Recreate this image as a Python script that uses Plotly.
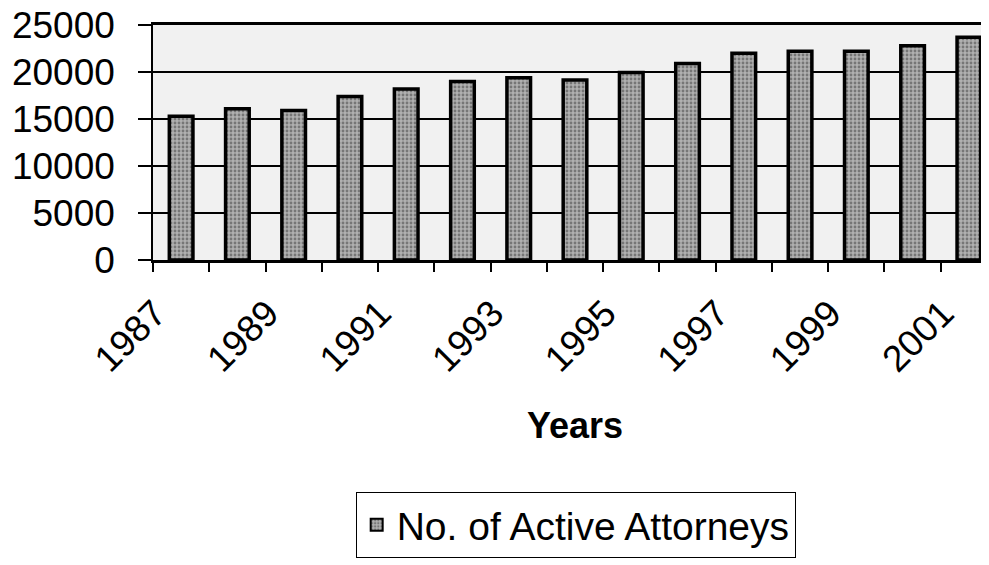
import plotly.graph_objects as go

years = list(range(1987, 2002))
attorneys = [15300, 16100, 15900, 17400, 18200, 19000, 19400, 19150,
             19950, 20900, 22000, 22200, 22200, 22800, 23700]
label_years = [1987, 1989, 1991, 1993, 1995, 1997, 1999, 2001]
y_ticks = [0, 5000, 10000, 15000, 20000, 25000]
series_name = "No. of Active Attorneys"
x_title = "Years"

FONT = "Liberation Sans, Arial, sans-serif"

fig = go.Figure()
fig.add_trace(go.Bar(
    x=years, y=attorneys, name=series_name, width=0.42,
    marker=dict(
        color="#a0a0a0",
        line=dict(color="black", width=3.5),
        pattern=dict(shape=".", fgcolor="#3c3c3c", bgcolor="#b0b0b0",
                     size=4, solidity=0.4),
    ),
    showlegend=True,
))

fig.update_layout(
    width=989, height=565,
    margin=dict(l=145, r=0, t=25, b=305, autoexpand=False),
    paper_bgcolor="white",
    plot_bgcolor="#f1f1f1",
    font=dict(family=FONT, color="black"),
    showlegend=True,
    legend=dict(
        orientation="h", x=0.574, xanchor="center", xref="container",
        y=0.1292, yanchor="top", yref="container",
        bordercolor="black", borderwidth=1, bgcolor="white",
        font=dict(size=39, family=FONT),
        itemsizing="constant",
    ),
)

fig.update_xaxes(
    range=[1986.5, 2001.5], automargin=False,
    tickmode="array", tickvals=label_years, ticktext=[str(y) for y in label_years],
    tickangle=-45, ticks="", showgrid=False,
    tickfont=dict(size=37, family=FONT),
    ticklabelstandoff=14, ticklabelshift=-26, ticklabeloverflow="allow",
    showline=True, linecolor="black", linewidth=2.5, mirror=True,
    minor=dict(tickmode="linear", tick0=1986.5, dtick=1, ticks="outside",
               ticklen=9, tickwidth=1.5, tickcolor="black", showgrid=False),
    title=dict(text="<b>" + x_title + "</b>", font=dict(size=36, family=FONT), standoff=35),
    zeroline=False,
)

fig.update_yaxes(
    range=[0, 25000], automargin=False,
    tickmode="array", tickvals=y_ticks, ticktext=[str(v) for v in y_ticks],
    ticks="outside", ticklen=13, tickwidth=1.5, tickcolor="black",
    tickfont=dict(size=37, family=FONT),
    ticklabelstandoff=16, ticklabeloverflow="allow",
    showgrid=True, gridcolor="black", gridwidth=1.5,
    showline=True, linecolor="black", linewidth=1.5,
    zeroline=False,
)

fig.write_html(
    "out.html",
    post_script="document.body.style.marginTop='0px';",
)
